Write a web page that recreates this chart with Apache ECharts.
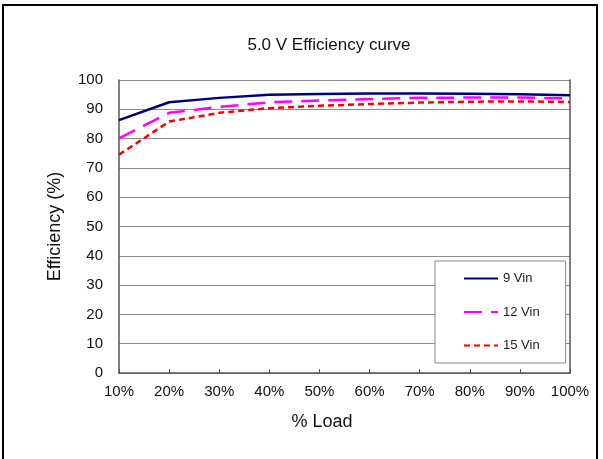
<!DOCTYPE html>
<html>
<head>
<meta charset="utf-8">
<script src="https://cdn.jsdelivr.net/npm/echarts@6/dist/echarts.min.js"></script>
<style>
html,body{margin:0;padding:0;background:#fff;}
#c{width:603px;height:459px;}
</style>
</head>
<body>
<div id="c"></div>
<script>
var loadPct = [10, 20, 30, 40, 50, 60, 70, 80, 90, 100];
var vin9  = [86.3, 92.4, 93.9, 95.0, 95.2, 95.4, 95.4, 95.3, 95.1, 94.8];
var vin12 = [80.1, 88.8, 90.8, 92.4, 93.0, 93.5, 93.9, 94.0, 94.0, 93.7];
var vin15 = [74.5, 85.8, 88.8, 90.4, 91.2, 91.8, 92.3, 92.6, 92.7, 92.5];
var seriesNames = ['9 Vin', '12 Vin', '15 Vin'];

function pairs(arr){ return loadPct.map(function(x,i){ return [x, arr[i]]; }); }

var font = 'Liberation Sans, Arial, sans-serif';
var chart = echarts.init(document.getElementById('c'), null, {renderer:'canvas'});
chart.setOption({
  backgroundColor: '#fff',
  animation: false,
  title: {
    text: '5.0 V Efficiency curve',
    left: 324, top: 32, textAlign: 'center',
    textStyle: {fontFamily: font, fontSize: 17, fontWeight: 'normal', color: '#111'}
  },
  graphic: [{
    type: 'rect', shape: {x: 3, y: 5, width: 594, height: 480},
    style: {fill: 'none', stroke: '#000', lineWidth: 2}, silent: true
  }],
  legend: {
    data: seriesNames,
    orient: 'vertical',
    left: 435, top: 261,
    padding: [11, 26, 11, 28],
    itemWidth: 34, itemHeight: 14, itemGap: 20.5,
    backgroundColor: '#fff',
    borderColor: '#888', borderWidth: 1,
    itemStyle: {opacity: 0},
    textStyle: {fontFamily: font, fontSize: 13, color: '#222'}
  },
  grid: {left: 119, right: 33, top: 80, bottom: 86},
  xAxis: {
    type: 'value', min: 10, max: 100, interval: 10,
    name: '% Load', nameLocation: 'middle', nameGap: 40,
    nameTextStyle: {fontFamily: font, fontSize: 18, color: '#111', padding: [0, 45, 0, 0]},
    axisLine: {show: true, lineStyle: {color: '#555', width: 1.5}},
    axisTick: {show: true, inside: true, length: 4, lineStyle: {color: '#555'}},
    axisLabel: {formatter: '{value}%', fontFamily: font, fontSize: 15, color: '#111', margin: 11},
    splitLine: {show: false}
  },
  yAxis: [{
    type: 'value', min: 0, max: 100, interval: 10,
    name: 'Efficiency (%)', nameLocation: 'middle', nameGap: 55,
    nameTextStyle: {fontFamily: font, fontSize: 18, color: '#111'},
    axisLine: {show: true, lineStyle: {color: '#555', width: 1.5}},
    axisTick: {show: false},
    axisLabel: {fontFamily: font, fontSize: 15, color: '#111', margin: 16},
    splitLine: {show: true, lineStyle: {color: '#8c8c8c', width: 1}}
  }, {
    type: 'value', min: 0, max: 100, interval: 10, position: 'right',
    axisLine: {show: true, lineStyle: {color: '#555', width: 1.5}},
    axisTick: {show: false}, axisLabel: {show: false}, splitLine: {show: false}
  }],
  series: [{
    name: seriesNames[0], type: 'line', data: pairs(vin9), symbol: 'none',
    lineStyle: {color: '#000080', width: 2.5}, itemStyle: {color: '#000080'}, z: 3
  }, {
    name: seriesNames[1], type: 'line', data: pairs(vin12), symbol: 'none',
    lineStyle: {color: '#ff00ff', width: 2.5, type: [18, 9]}, itemStyle: {color: '#ff00ff'}, z: 2
  }, {
    name: seriesNames[2], type: 'line', data: pairs(vin15), symbol: 'none',
    lineStyle: {color: '#ff0000', width: 2.5, type: [6, 4]}, itemStyle: {color: '#ff0000'}, z: 2
  }]
});
</script>
</body>
</html>
